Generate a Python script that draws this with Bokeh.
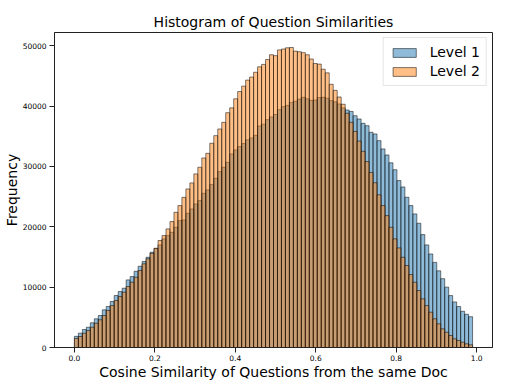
import numpy as np
from bokeh.plotting import figure
from bokeh.models import Range1d, NumeralTickFormatter
from bokeh.embed import file_html
from bokeh.resources import INLINE

# ---- data ----
bin_start = 0.0
bin_end = 0.99
n_bins = 100

level1 = [
    1850, 2370, 2980, 3360, 4090, 4750, 5300, 6240, 6790, 7620,
    8610, 9270, 9820, 11200, 11750, 12630, 13460, 14240, 14950, 15780,
    16400, 17000, 18000, 18540, 19090, 19920, 21030, 21140, 22240, 22960,
    23790, 24340, 25550, 26110, 26990, 28030, 29140, 29860, 30680, 32070,
    32730, 33280, 33800, 34400, 34720, 35150, 36700, 37000, 37750, 38200,
    38600, 39400, 39900, 40100, 40600, 40800, 41150, 41450, 41200, 40950,
    41000, 41400, 41450, 41300, 40900, 40700, 40350, 39700, 39350, 39100,
    38400, 37860, 37140, 36750, 35650, 35380, 34270, 32900, 31900, 30600,
    29450, 27650, 26600, 24890, 23510, 22130, 20580, 18700, 17000, 15500,
    14100, 12700, 11400, 10000, 8600, 7550, 6800, 6000, 5500, 5100,
]

level2 = [
    1490, 1820, 2370, 2810, 3360, 4020, 4590, 5300, 6130, 6950,
    7780, 8440, 9160, 10100, 10810, 11640, 12750, 13860, 14700, 15600,
    16440, 17720, 18540, 19650, 20860, 22400, 23510, 24880, 26270, 27270,
    28760, 29860, 31400, 32170, 33830, 35100, 36200, 37300, 38900, 39700,
    41200, 42400, 43300, 44300, 44800, 45600, 46500, 46900, 47700, 48500,
    48350, 49300, 49450, 49650, 49700, 49100, 49000, 48850, 48500, 47800,
    47050, 46950, 46100, 45500, 43600, 42600, 41500, 40300, 38800, 37300,
    35800, 34200, 32500, 30800, 29000, 27300, 25300, 23510, 21850, 19920,
    18000, 16500, 14950, 13580, 12090, 10810, 9440, 8060, 6950, 5850,
    4750, 3920, 3090, 2530, 1990, 1440, 1160, 880, 610, 450,
]

series_names = ["Level 1", "Level 2"]
x_ticks = [0.0, 0.2, 0.4, 0.6, 0.8, 1.0]
y_ticks = [0, 10000, 20000, 30000, 40000, 50000]

title_text = "Histogram of Question Similarities"
x_label = "Cosine Similarity of Questions from the same Doc"
y_label = "Frequency"

# ---- figure ----
FONT = "DejaVu Sans"
edges = np.linspace(bin_start, bin_end, n_bins + 1)
span = bin_end - bin_start
ymax = max(max(level1), max(level2)) * 1.05

p = figure(
    width=506, height=386,
    output_backend="svg", toolbar_location=None,
    x_range=Range1d(bin_start - 0.05 * span, bin_end + 0.05 * span),
    y_range=Range1d(0, ymax),
    title=title_text,
    min_border_left=53, min_border_right=14,
    min_border_top=32, min_border_bottom=39,
)
p.background_fill_color = "white"
p.border_fill_color = "white"
p.outline_line_color = "#222222"
p.outline_line_width = 1

p.quad(left=edges[:-1], right=edges[1:], bottom=0, top=level1,
       fill_color="#1f77b4", fill_alpha=0.5,
       line_color="black", line_alpha=0.5, line_width=1,
       legend_label=series_names[0])
p.quad(left=edges[:-1], right=edges[1:], bottom=0, top=level2,
       fill_color="#ff7f0e", fill_alpha=0.5,
       line_color="black", line_alpha=0.5, line_width=1,
       legend_label=series_names[1])

# title
p.title.text_font = FONT
p.title.text_font_size = "14px"
p.title.text_font_style = "normal"
p.title.text_color = "black"
p.title.align = "center"
p.title.standoff = 5

# grid off
p.xgrid.visible = False
p.ygrid.visible = False

# axes
p.xaxis.ticker = x_ticks
p.yaxis.ticker = y_ticks
p.xaxis.formatter = NumeralTickFormatter(format="0.0")
p.yaxis.formatter = NumeralTickFormatter(format="0")
for ax in (p.xaxis, p.yaxis):
    ax.axis_line_color = "#222222"
    ax.major_tick_line_color = "#222222"
    ax.major_tick_out = 5
    ax.major_tick_in = 0
    ax.minor_tick_line_color = None
    ax.major_label_text_font = FONT
    ax.major_label_text_font_size = "7.5px"
    ax.major_label_text_color = "black"
    ax.axis_label_text_font = FONT
    ax.axis_label_text_font_size = "14px"
    ax.axis_label_text_font_style = "normal"
    ax.axis_label_text_color = "black"
p.xaxis.axis_label = x_label
p.yaxis.axis_label = y_label
p.xaxis.major_label_standoff = 2
p.xaxis.axis_label_standoff = 0
p.yaxis.major_label_standoff = 3
p.yaxis.axis_label_standoff = 0

# legend
lg = p.legend[0]
lg.location = "top_right"
lg.margin = 5
lg.padding = 6
lg.spacing = 3
lg.glyph_width = 29
lg.glyph_height = 11
lg.label_standoff = 11
lg.label_text_font = FONT
lg.label_text_font_size = "14px"
lg.label_text_color = "black"
lg.border_line_color = "#cccccc"
lg.background_fill_alpha = 0.8

open("out.html", "w").write(file_html(p, INLINE))
